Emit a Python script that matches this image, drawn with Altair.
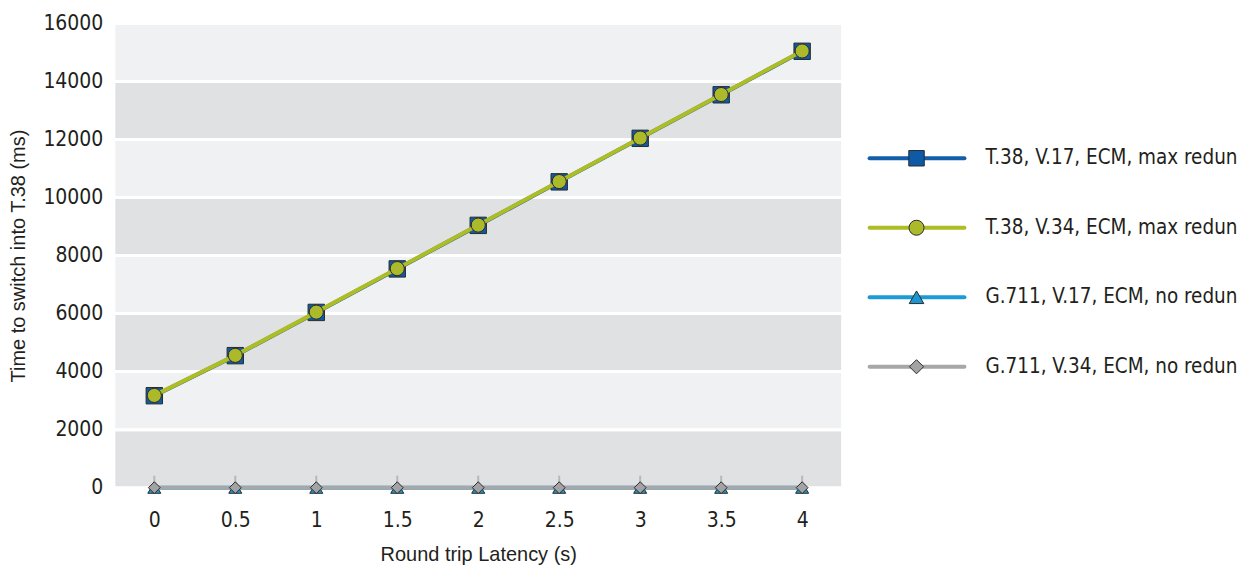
import altair as alt
import pandas as pd

# ---- data ----
latency = [0, 0.5, 1, 1.5, 2, 2.5, 3, 3.5, 4]
t38_v17 = [3170, 4550, 6040, 7540, 9040, 10540, 12040, 13540, 15040]
t38_v34 = [3180, 4560, 6050, 7550, 9050, 10550, 12050, 13550, 15050]
g711_v17 = [0, 0, 0, 0, 0, 0, 0, 0, 0]
g711_v34 = [0, 0, 0, 0, 0, 0, 0, 0, 0]

series_names = [
    "T.38, V.17, ECM, max redun",
    "T.38, V.34, ECM, max redun",
    "G.711, V.17, ECM, no redun",
    "G.711, V.34, ECM, no redun",
]
legend_rows = [0, 1, 2, 3]
series_values = [t38_v17, t38_v34, g711_v17, g711_v34]
line_colors = ["#135ea8", "#aebd24", "#1c9bd7", "#a6a7a9"]
marker_fills = ["#0d5aa7", "#abb92a", "#1a95d0", "#a3a3a5"]
marker_shapes = ["square", "circle", "triangle-up", "diamond"]
marker_sizes = [270, 200, 170, 140]
legend_marker_sizes = [240, 200, 160, 120]

band_lo = [0, 2000, 4000, 6000, 8000, 10000, 12000, 14000]
band_hi = [2000, 4000, 6000, 8000, 10000, 12000, 14000, 16000]
band_fill = ["#e0e1e3", "#f0f1f2", "#e0e1e3", "#f0f1f2",
             "#e0e1e3", "#f0f1f2", "#e0e1e3", "#f0f1f2"]
y_ticks = [0, 2000, 4000, 6000, 8000, 10000, 12000, 14000, 16000]

NARROW = "Liberation Sans Narrow, DejaVu Sans Condensed, sans-serif"
REGULAR = "Liberation Sans, Arial, sans-serif"
TEXT = "#231f20"

x_scale = alt.Scale(domain=[-0.25, 4.25], nice=False, zero=False)
y_scale = alt.Scale(domain=[0, 16000], nice=False, zero=True)

x_axis = alt.Axis(values=latency, format="~g", title="Round trip Latency (s)",
                  domain=False, ticks=False, grid=False,
                  labelPadding=22, titlePadding=14,
                  labelFont=NARROW, labelFontSize=21, labelColor=TEXT,
                  titleFont=REGULAR, titleFontSize=20, titleFontWeight="normal",
                  titleColor=TEXT)
y_axis = alt.Axis(values=y_ticks, format="d", title="Time to switch into T.38 (ms)",
                  domain=False, ticks=False, grid=False,
                  labelPadding=11, titlePadding=14,
                  labelFont=NARROW, labelFontSize=21, labelColor=TEXT,
                  titleFont=REGULAR, titleFontSize=20, titleFontWeight="normal",
                  titleColor=TEXT)

x_enc = alt.X("latency:Q", scale=x_scale, axis=x_axis)
y_enc = alt.Y("value:Q", scale=y_scale, axis=y_axis)

bands = pd.DataFrame({"lo": band_lo, "hi": band_hi, "fill": band_fill})
band_layer = alt.Chart(bands).mark_rect(stroke="white", strokeWidth=3).encode(
    y=alt.Y("lo:Q", scale=y_scale, axis=y_axis),
    y2="hi:Q",
    color=alt.Color("fill:N", scale=None),
)

layers = [band_layer]
for name, vals, lc, mf, ms, sz in zip(series_names, series_values, line_colors,
                                       marker_fills, marker_shapes, marker_sizes):
    df = pd.DataFrame({"latency": latency, "value": vals, "series": name})
    base = alt.Chart(df)
    layers.append(base.mark_line(color=lc, strokeWidth=4).encode(x=x_enc, y=y_enc))
    if ms == "diamond":
        layers.append(base.mark_tick(color="#a6a7a9", thickness=2, size=10, yOffset=-7,
                                     orient="vertical").encode(x=x_enc, y=y_enc))
    layers.append(base.mark_point(shape=ms, filled=True, fill=mf, stroke="#2b2b2b",
                                  strokeWidth=1, size=sz, opacity=1).encode(x=x_enc, y=y_enc))

main = alt.layer(*layers).properties(width=730, height=465)

# ---- custom legend (line + marker) ----
leg = pd.DataFrame({"name": series_names, "row": legend_rows})
leg_y = alt.Y("row:Q", scale=alt.Scale(domain=[-1.94, 4.74], reverse=True, nice=False, zero=False),
              axis=None)
color_scale = alt.Scale(domain=series_names, range=line_colors)
fill_scale = alt.Scale(domain=series_names, range=marker_fills)
shape_scale = alt.Scale(domain=series_names, range=marker_shapes)
size_scale = alt.Scale(domain=series_names, range=legend_marker_sizes)

leg_line = alt.Chart(leg).mark_rule(strokeWidth=4, strokeCap="round").encode(
    x=alt.value(0), x2=alt.value(95), y=leg_y,
    color=alt.Color("name:N", scale=color_scale, legend=None),
)
leg_point = alt.Chart(leg).mark_point(filled=True, stroke="#2b2b2b", strokeWidth=1, opacity=1).encode(
    x=alt.value(47), y=leg_y,
    fill=alt.Fill("name:N", scale=fill_scale, legend=None),
    shape=alt.Shape("name:N", scale=shape_scale, legend=None),
    size=alt.Size("name:N", scale=size_scale, legend=None),
)
leg_text = alt.Chart(leg).mark_text(align="left", baseline="middle", font=NARROW,
                                    fontSize=20.5, color=TEXT).encode(
    x=alt.value(116), y=leg_y, text="name:N",
)
legend = alt.layer(leg_line, leg_point, leg_text).properties(width=362, height=465)

chart = alt.hconcat(main, legend, spacing=23).properties(
    padding={"left": 0, "top": 4, "right": 0, "bottom": 0}
).configure_view(stroke=None).resolve_scale(color="independent", shape="independent",
                                             size="independent", fill="independent")

chart.save("out.html", embed_options={"renderer": "svg", "actions": False})
